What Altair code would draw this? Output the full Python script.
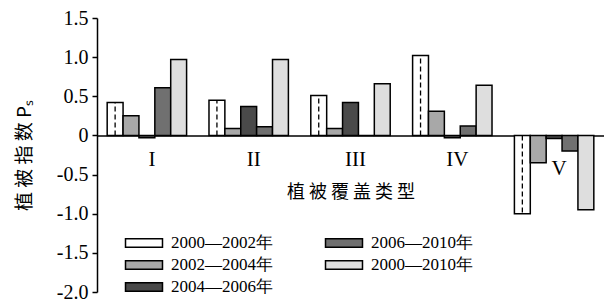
import altair as alt
import pandas as pd

categories = ["I", "II", "III", "IV", "V"]
periods = ["2000—2002年", "2002—2004年", "2004—2006年", "2006—2010年", "2000—2010年"]
v_2000_2002 = [0.42, 0.45, 0.51, 1.02, -1.00]
v_2002_2004 = [0.25, 0.09, 0.09, 0.31, -0.35]
v_2004_2006 = [-0.03, 0.37, 0.42, -0.03, -0.04]
v_2006_2010 = [0.61, 0.11, 0.00, 0.12, -0.20]
v_2000_2010 = [0.97, 0.97, 0.66, 0.64, -0.95]
y_ticks = [-2.0, -1.5, -1.0, -0.5, 0, 0.5, 1.0, 1.5]
fill_colors = ["#ffffff", "#a8a8a8", "#4a4a4a", "#707070", "#dedede"]

series = [v_2000_2002, v_2002_2004, v_2004_2006, v_2006_2010, v_2000_2010]
rows = []
for p, vals in zip(periods, series):
    for c, v in zip(categories, vals):
        rows.append({"cat": c, "period": p, "value": v})
df = pd.DataFrame(rows)

W = 507
H = 274
YMIN, YMAX = -2.0, 1.5
zero_from_bottom = H * (0 - YMIN) / (YMAX - YMIN)

serif = "Liberation Serif"
cjk = "Noto Sans CJK SC"

x_scale = alt.Scale(paddingInner=0.22, paddingOuter=0.1)
xoff_scale = alt.Scale(paddingInner=0, paddingOuter=0)
y_scale = alt.Scale(domain=[YMIN, YMAX], nice=False, zero=False)

x_axis = alt.Axis(
    orient="bottom",
    offset=-zero_from_bottom,
    title="植 被 覆 盖 类 型",
    titleFont=cjk,
    titleFontSize=18,
    titleFontWeight="normal",
    titleColor="black",
    titlePadding=5,
    labelAngle=0,
    ticks=False,
    domainColor="black",
    domainWidth=1.5,
    labelFont=serif,
    labelFontSize=21,
    labelColor="black",
    labelPadding={"condition": {"test": "datum.value === 'V'", "value": 22}, "value": 13},
    labelOffset=5,
)

y_axis = alt.Axis(
    values=y_ticks,
    labelExpr="datum.value == 0 ? '0' : (datum.value < 0 ? '-' : '') + format(abs(datum.value), '.1f')",
    labelOverlap=False,
    labelBound=False,
    title="植 被 指 数 P\u209b",
    titleFont=cjk,
    titleFontSize=19,
    titleFontWeight="normal",
    titleColor="black",
    titlePadding=22,
    labelFont=serif,
    labelFontSize=20,
    labelColor="black",
    labelPadding=4,
    tickSize=5,
    tickColor="black",
    tickWidth=1.5,
    domainColor="black",
    domainWidth=1.5,
    grid=False,
)

bars = alt.Chart(df).mark_bar(stroke="black", strokeWidth=1.5).encode(
    x=alt.X("cat:N", sort=categories, scale=x_scale, axis=x_axis),
    xOffset=alt.XOffset("period:N", sort=periods, scale=xoff_scale),
    y=alt.Y("value:Q", scale=y_scale, axis=y_axis),
    fill=alt.Fill(
        "period:N",
        scale=alt.Scale(domain=periods, range=fill_colors),
        legend=alt.Legend(
            orient="none",
            legendX=37,
            legendY=215,
            title=None,
            columns=2,
            columnPadding=49,
            rowPadding=4,
            symbolType="M-2,-0.45H2V0.45H-2Z",
            symbolSize=342,
            symbolStrokeColor="black",
            symbolStrokeWidth=1.5,
            labelFont=serif,
            labelFontSize=17,
            labelColor="black",
            labelOffset=17,
            padding=0,
        ),
    ),
)

center_line = alt.Chart(df).transform_filter(
    alt.datum.period == periods[0]
).transform_calculate(zero="0").mark_rule(
    color="black", strokeWidth=1.3, strokeDash=[5, 3]
).encode(
    x=alt.X("cat:N", sort=categories, scale=x_scale, axis=x_axis),
    xOffset=alt.XOffset("period:N", sort=periods, scale=xoff_scale),
    y=alt.Y("zero:Q", scale=y_scale, axis=y_axis),
    y2="value:Q",
)

chart = alt.layer(bars, center_line).properties(
    width=W,
    height=H,
    padding={"left": 7, "top": 0, "right": 0, "bottom": 0},
).configure_view(stroke=None)

chart.save("out.html", embed_options={"renderer": "svg", "actions": False})
